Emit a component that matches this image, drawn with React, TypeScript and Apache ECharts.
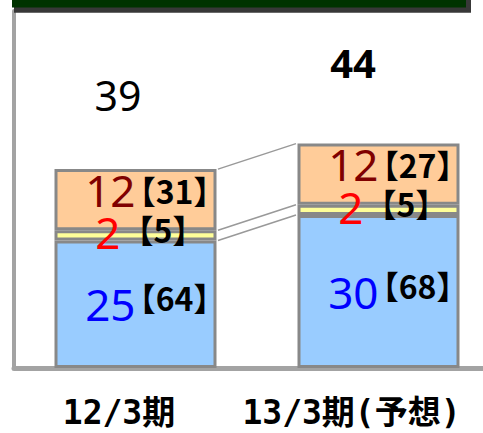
import React, { useEffect, useRef } from "react";
import * as echarts from "echarts";

const categories = ["12/3期", "13/3期(予想)"];
const blueValues = [25, 30];
const yellowValues = [2, 2];
const orangeValues = [12, 12];
const blueShares = [64, 68];
const yellowShares = [5, 5];
const orangeShares = [31, 27];

const BAR_W = 162;
const BORDER = "#888888";
const AXIS = "#a3a3a3";

const totals = categories.map((_, i) => blueValues[i] + yellowValues[i] + orangeValues[i]);
const boundaries = [
  blueValues,
  blueValues.map((v, i) => v + yellowValues[i]),
  totals,
];

function numTok(color: string, width: number) {
  return {
    fontFamily: "Noto Sans",
    fontSize: 44,
    color,
    width,
    align: "right",
    verticalAlign: "middle",
    textBorderWidth: 0,
  };
}
function brTok(width: number, raise: number) {
  return {
    fontFamily: "Noto Sans CJK JP",
    fontWeight: "bold",
    fontSize: 32,
    color: "#000000",
    width,
    align: "right",
    verticalAlign: "middle",
    padding: [0, 0, raise, 0],
    textBorderWidth: 0,
  };
}

export default function App() {
  const ref = useRef<HTMLDivElement>(null);
  useEffect(() => {
    if (!ref.current) return;
    const chart = echarts.init(ref.current, null, { renderer: "svg" });
    const seg = (
      name: string,
      data: number[],
      color: string,
      shares: number[],
      numColor: string,
      w1: number,
      w2: number,
      raise: number,
      dy: number
    ) => ({
      type: "bar",
      name,
      stack: "s",
      data,
      barWidth: BAR_W,
      barGap: "-100%",
      itemStyle: { color, borderColor: BORDER, borderWidth: 3 },
      label: {
        show: true,
        position: "inside",
        offset: [0, dy],
        textBorderWidth: 0,
        formatter: (p: any) => `{n|${p.value}}{b|【${shares[p.dataIndex]}】}`,
        rich: { n: numTok(numColor, w1), b: brTok(w2, raise) },
      },
      silent: true,
    });
    chart.setOption({
      animation: false,
      grid: { left: 14, top: 11, width: 486, bottom: 65, containLabel: false, outerBoundsMode: "none" },
      xAxis: {
        type: "category",
        data: categories,
        axisTick: { show: false },
        axisLine: { show: true, lineStyle: { color: AXIS, width: 5 } },
        axisLabel: {
          interval: 0,
          margin: 28,
          hideOverlap: false,
          formatter: (v: string, i: number) => `{c${i}|${v}}`,
          rich: {
            c0: {
              fontFamily: "DejaVu Sans Mono, Noto Sans CJK JP",
              fontWeight: "bold",
              fontSize: 33,
              lineHeight: 32,
              color: "#000",
              padding: [0, 33, 0, 0],
            },
            c1: {
              fontFamily: "DejaVu Sans Mono, Noto Sans CJK JP",
              fontWeight: "bold",
              fontSize: 33,
              lineHeight: 32,
              color: "#000",
              padding: [0, 54, 0, 0],
            },
          },
        },
      },
      yAxis: {
        type: "value",
        min: 0,
        max: 70,
        splitLine: { show: false },
        axisLabel: { show: false },
        axisTick: { show: false },
        axisLine: { show: true, lineStyle: { color: AXIS, width: 4 } },
      },
      graphic: [
        { type: "rect", shape: { x: 14, y: 0, width: 457, height: 12.7 }, style: { fill: "#383838" }, z: 10 },
        { type: "rect", shape: { x: 12, y: 0, width: 454, height: 7.5 }, style: { fill: "#003300" }, z: 11 },
      ],
      series: [
        {
          type: "custom",
          data: boundaries.map((b) => [0, b[0], b[1]]),
          encode: { x: 0, y: 1 },
          silent: true,
          z: 1,
          renderItem: (params: any, api: any) => {
            const a = api.coord([0, api.value(1)]);
            const b = api.coord([1, api.value(2)]);
            const hw = BAR_W / 2 + 1.5;
            return {
              type: "line",
              shape: { x1: a[0] + hw, y1: a[1], x2: b[0] - hw, y2: b[1] },
              style: { stroke: "#999999", lineWidth: 1.5 },
            };
          },
        },
        seg("blue", blueValues, "#99ccff", blueShares, "#0000ff", 90, 90, 14, 0),
        seg("yellow", yellowValues, "#ffff99", yellowShares, "#ff0000", 54, 84, 7, -3),
        seg("orange", orangeValues, "#ffcc99", orangeShares, "#800000", 90, 90, 0, -10),
        {
          type: "bar",
          name: "total",
          data: totals,
          barWidth: BAR_W,
          barGap: "-100%",
          itemStyle: { color: "transparent" },
          silent: true,
          label: {
            show: true,
            position: "top",
            distance: 0,
            textBorderWidth: 0,
            formatter: (p: any) => `{t${p.dataIndex}|${p.value}}`,
            rich: {
              t0: {
                fontFamily: "Noto Sans",
                fontSize: 41,
                lineHeight: 40,
                color: "#000",
                padding: [0, 35, 108, 0],
              },
              t1: {
                fontFamily: "Noto Sans",
                fontWeight: "bold",
                fontSize: 40,
                lineHeight: 40,
                color: "#000",
                padding: [0, 51, 122, 0],
              },
            },
          },
        },
      ],
    });
    return () => chart.dispose();
  }, []);
  return (
    <div
      ref={ref}
      style={{ position: "fixed", left: 0, top: 0, width: 483, height: 433, background: "#fff" }}
    />
  );
}
